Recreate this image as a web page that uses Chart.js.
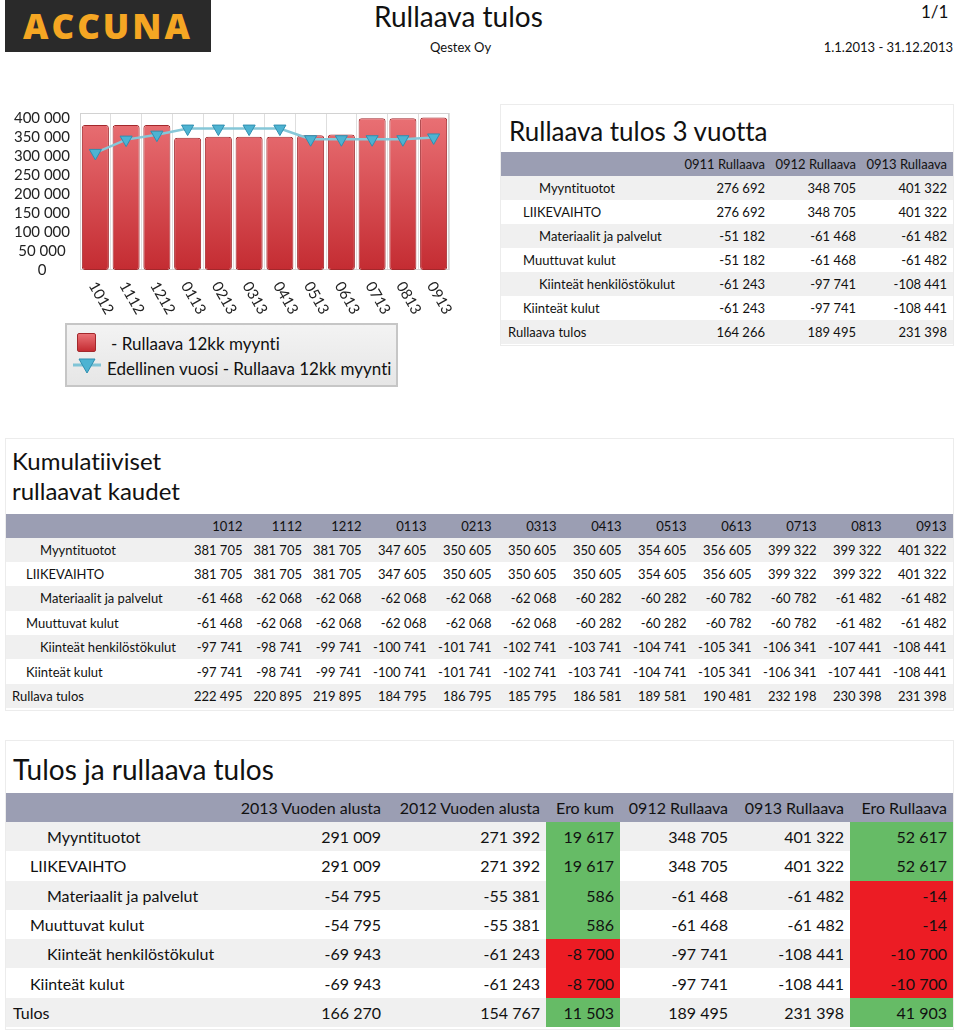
<!DOCTYPE html>
<html lang="fi">
<head>
<meta charset="utf-8">
<title>Rullaava tulos</title>
<script src="https://cdn.jsdelivr.net/npm/chart.js@4.4.1/dist/chart.umd.min.js"></script>
<style>
  html, body { margin: 0; padding: 0; background: #fff; }
  body { width: 960px; height: 1032px; position: relative; overflow: hidden;
         font-family: Lato, "Open Sans", sans-serif; font-variant-ligatures: none; color: #111; }
  .abs { position: absolute; white-space: nowrap; }
  .logo { left: 5px; top: 0; width: 206px; height: 52px; background: #2a2a2a;
          color: #f5a623; font-family: "Open Sans", sans-serif; font-weight: 800;
          font-size: 35px; letter-spacing: 3px; line-height: 52px; text-align: center; }
  .box { position: absolute; border: 1px solid #ececec; box-sizing: border-box; }
  table { position: absolute; border-collapse: collapse; table-layout: fixed; }
  td, th { padding: 0 6px 0 0; text-align: right; white-space: nowrap; overflow: hidden; }
  th { background: #9b9eb3; font-weight: normal; color: #111; }
  tbody tr:nth-child(odd) td { background: #f0f0f0; }
  td.lab { text-align: left; }
  td.pos { background: #66bb66 !important; }
  td.neg { background: #ec1c24 !important; }
  .legend { left: 65px; top: 323px; width: 333px; height: 64px; box-sizing: border-box;
            border: 2px solid #c6c6c6; background: linear-gradient(#f3f3f3, #e6e6e6); }
</style>
</head>
<body>
<script>
// kaavion data
const periods = ['1012', '1112', '1212', '0113', '0213', '0313', '0413', '0513', '0613', '0713', '0813', '0913'];
const rollingSales = [381705, 381705, 381705, 347605, 350605, 350605, 350605, 354605, 356605, 399322, 399322, 401322];
const prevYearSales = [308000, 343000, 356000, 372000, 372000, 372000, 372000, 344000, 344000, 344000, 344000, 348705];
const yTickValues = [0, 50000, 100000, 150000, 200000, 250000, 300000, 350000, 400000];

// rivit
const rowLabels = ['Myyntituotot', 'LIIKEVAIHTO', 'Materiaalit ja palvelut', 'Muuttuvat kulut',
                   'Kiinteät henkilöstökulut', 'Kiinteät kulut'];
const rowLevels = [2, 1, 2, 1, 2, 1, 0];

// Rullaava tulos 3 vuotta
const threeYearCols = ['0911 Rullaava', '0912 Rullaava', '0913 Rullaava'];
const roll0911 = [276692, 276692, -51182, -51182, -61243, -61243, 164266];
const roll0912 = [348705, 348705, -61468, -61468, -97741, -97741, 189495];
const roll0913 = [401322, 401322, -61482, -61482, -108441, -108441, 231398];

// Kumulatiiviset rullaavat kaudet (rivi kerrallaan)
const cumSales = [381705, 381705, 381705, 347605, 350605, 350605, 350605, 354605, 356605, 399322, 399322, 401322];
const cumRevenue = [381705, 381705, 381705, 347605, 350605, 350605, 350605, 354605, 356605, 399322, 399322, 401322];
const cumMaterials = [-61468, -62068, -62068, -62068, -62068, -62068, -60282, -60282, -60782, -60782, -61482, -61482];
const cumVariable = [-61468, -62068, -62068, -62068, -62068, -62068, -60282, -60282, -60782, -60782, -61482, -61482];
const cumStaff = [-97741, -98741, -99741, -100741, -101741, -102741, -103741, -104741, -105341, -106341, -107441, -108441];
const cumFixed = [-97741, -98741, -99741, -100741, -101741, -102741, -103741, -104741, -105341, -106341, -107441, -108441];
const cumResult = [222495, 220895, 219895, 184795, 186795, 185795, 186581, 189581, 190481, 232198, 230398, 231398];

// Tulos ja rullaava tulos
const resultCols = ['2013 Vuoden alusta', '2012 Vuoden alusta', 'Ero kum', '0912 Rullaava', '0913 Rullaava', 'Ero Rullaava'];
const ytd2013 = [291009, 291009, -54795, -54795, -69943, -69943, 166270];
const ytd2012 = [271392, 271392, -55381, -55381, -61243, -61243, 154767];
const diffYtd = [19617, 19617, 586, 586, -8700, -8700, 11503];
const diffRolling = [52617, 52617, -14, -14, -10700, -10700, 41903];

function fmt(v) {
    const s = Math.abs(v).toString().replace(/\B(?=(\d{3})+(?!\d))/g, ' ');
    return (v < 0 ? '-' : '') + s;
}
</script>

<div class="abs logo">ACCUNA</div>
<div class="abs" style="left:374px; top:0px; font-size:28px; line-height:32px;">Rullaava tulos</div>
<div class="abs" style="left:921px; top:0px; font-size:17px; line-height:24px;">1/1</div>
<div class="abs" style="left:430px; top:38px; font-size:13px; line-height:18px;">Qestex Oy</div>
<div class="abs" style="right:7px; top:38px; font-size:13px; line-height:18px;">1.1.2013 - 31.12.2013</div>

<div class="abs" style="left:0; top:94px; width:460px; height:236px;">
  <canvas id="salesChart" width="460" height="236"></canvas>
</div>

<div class="abs legend"></div>
<div class="abs" style="left:77px; top:333px; width:17px; height:17px; border:1px solid #a3282c; border-radius:2px; background:linear-gradient(#ea7276,#c42c32);"></div>
<div class="abs" style="left:111px; top:333px; font-size:17px; line-height:22px;">- Rullaava 12kk myynti</div>
<svg class="abs" style="left:72px; top:357px;" width="30" height="20">
  <line x1="1" y1="8" x2="29" y2="8" stroke="#80c4d6" stroke-width="3"/>
  <polygon points="7,2 23,2 15,16" fill="#4db3d2" stroke="#2f8fb0" stroke-width="1"/>
</svg>
<div class="abs" style="left:107px; top:358px; font-size:17px; line-height:22px;">Edellinen vuosi - Rullaava 12kk myynti</div>

<div class="box" style="left:500px; top:104px; width:454px; height:242px;"></div>
<div class="abs" style="left:509px; top:114px; font-size:26px; line-height:34px;">Rullaava tulos 3 vuotta</div>
<table id="t1" style="left:501px; top:152px; width:452px; font-size:13px;"></table>

<div class="box" style="left:5px; top:438px; width:949px; height:273px;"></div>
<div class="abs" style="left:12px; top:446px; font-size:24px; line-height:30px;">Kumulatiiviset<br>rullaavat kaudet</div>
<table id="t2" style="left:6px; top:514px; width:946.5px; font-size:13px;"></table>

<div class="box" style="left:5px; top:740px; width:949px; height:290px;"></div>
<div class="abs" style="left:13px; top:750px; font-size:28px; line-height:38px;">Tulos ja rullaava tulos</div>
<table id="t3" style="left:6px; top:793px; width:947px; font-size:16px;"></table>

<script>
function buildTable(id, colNames, colWidths, labelWidth, columns, totalLabel, headH, rowH, indent, colorCols) {
    const table = document.getElementById(id);
    let html = '<colgroup><col style="width:' + labelWidth + 'px">';
    colWidths.forEach(w => { html += '<col style="width:' + w + 'px">'; });
    html += '</colgroup><thead><tr style="height:' + headH + 'px"><th></th>';
    colNames.forEach(c => { html += '<th>' + c + '</th>'; });
    html += '</tr></thead><tbody>';
    const labels = rowLabels.concat([totalLabel]);
    labels.forEach((lab, r) => {
        html += '<tr style="height:' + rowH + 'px"><td class="lab" style="padding-left:' + (indent[rowLevels[r]]) + 'px">' + lab + '</td>';
        columns.forEach((col, c) => {
            let cls = '';
            if (colorCols && colorCols.indexOf(c) >= 0) cls = col[r] >= 0 ? 'pos' : 'neg';
            html += '<td class="' + cls + '">' + fmt(col[r]) + '</td>';
        });
        html += '</tr>';
    });
    html += '</tbody>';
    table.innerHTML = html;
}

buildTable('t1', threeYearCols, [91, 91, 91], 179, [roll0911, roll0912, roll0913],
           'Rullaava tulos', 24, 24, [7, 22, 38]);

// kumulatiivinen taulukko: rivit -> sarakkeet
const cumRows = [cumSales, cumRevenue, cumMaterials, cumVariable, cumStaff, cumFixed, cumResult];
const cumColumns = periods.map((p, i) => cumRows.map(row => row[i]));
buildTable('t2', periods, [59.5, 59.5, 59.5, 65, 65, 65, 65, 65, 65, 65, 65, 65], 183, cumColumns,
           'Rullava tulos', 23.5, 24.4, [6, 20, 34]);

buildTable('t3', resultCols, [158, 159, 74, 114, 116, 103], 223,
           [ytd2013, ytd2012, diffYtd, roll0912, roll0913, diffRolling],
           'Tulos', 29, 29.3, [7, 24, 41], [2, 5]);

// kaavio
const xLabelPlugin = {
    id: 'xLabels',
    afterDraw(chart) {
        const ctx = chart.ctx;
        const xs = chart.scales.x;
        ctx.save();
        ctx.font = '15px Lato';
        ctx.fillStyle = '#222';
        ctx.textAlign = 'left';
        ctx.textBaseline = 'middle';
        chart.data.labels.forEach((lab, i) => {
            const px = xs.getPixelForValue(i);
            ctx.save();
            ctx.translate(px - 3, xs.top + 13);
            ctx.rotate(Math.PI / 3);
            ctx.fillText(lab, 0, 0);
            ctx.restore();
        });
        ctx.restore();
    }
};

const frameBorder = {
    id: 'frameBorder',
    beforeDatasetsDraw(chart) {
        const {ctx, chartArea} = chart;
        ctx.save();
        ctx.strokeStyle = '#d2d2d2';
        ctx.lineWidth = 1;
        ctx.strokeRect(chartArea.left + 0.5, chartArea.top + 0.5,
                       chartArea.right - chartArea.left - 1, chartArea.bottom - chartArea.top - 1);
        ctx.restore();
    }
};

function barGradient(context) {
    const chart = context.chart;
    const area = chart.chartArea;
    if (!area) return '#d85a5c';
    const g = chart.ctx.createLinearGradient(0, area.top, 0, area.bottom);
    g.addColorStop(0, '#ea7276');
    g.addColorStop(1, '#c42c32');
    return g;
}

new Chart(document.getElementById('salesChart'), {
    type: 'bar',
    data: {
        labels: periods,
        datasets: [{
            type: 'line',
            label: 'Edellinen vuosi - Rullaava 12kk myynti',
            data: prevYearSales,
            borderColor: '#86c7d8',
            borderWidth: 2.5,
            pointStyle: 'triangle',
            rotation: 180,
            pointRadius: 7,
            pointBackgroundColor: '#4db3d2',
            pointBorderColor: '#2f8fb0',
            pointBorderWidth: 1,
            tension: 0,
            order: 0
        }, {
            label: ' - Rullaava 12kk myynti',
            data: rollingSales,
            backgroundColor: barGradient,
            borderColor: '#a3282c',
            borderWidth: 1,
            borderRadius: 3,
            borderSkipped: false,
            categoryPercentage: 1,
            barPercentage: 0.88,
            order: 1
        }]
    },
    options: {
        responsive: false,
        animation: false,
        layout: { padding: { top: 0, right: 11, left: 0, bottom: 0 } },
        plugins: { legend: { display: false }, tooltip: { enabled: false } },
        scales: {
            x: {
                ticks: { display: false },
                grid: { color: '#dedede', drawTicks: false },
                border: { display: false },
                afterFit(scale) { scale.height = 60; }
            },
            y: {
                min: 0,
                max: 413000,
                afterBuildTicks(scale) {
                    scale.ticks = yTickValues.map(v => ({ value: v }));
                },
                ticks: {
                    autoSkip: false,
                    crossAlign: 'center',
                    padding: 10,
                    color: '#222',
                    font: { family: 'Lato', size: 15 },
                    callback: v => fmt(v)
                },
                grid: { display: false, drawTicks: false },
                border: { display: false },
                afterFit(scale) { scale.width = 80; }
            }
        }
    },
    plugins: [xLabelPlugin, frameBorder]
});
</script>
</body>
</html>
